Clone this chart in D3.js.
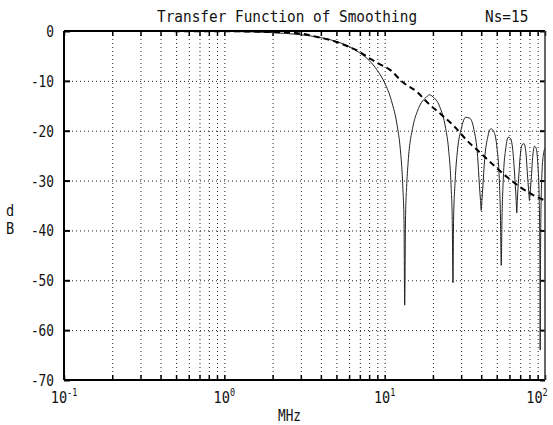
<!DOCTYPE html>
<html lang="en">
<head>
<meta charset="utf-8">
<title>Transfer Function of Smoothing</title>
<script src="https://cdn.jsdelivr.net/npm/d3@7"></script>
<style>
  body { margin: 0; background: #fff; }
  text { font-family: "DejaVu Sans Mono", monospace; fill: #111; }
</style>
</head>
<body>
<script>

// data
var decades = [0.1, 1, 10, 100];
var decadeExp = ["-1", "0", "1", "2"];
var dbTicks = [0, -10, -20, -30, -40, -50, -60, -70];

// solid curve (smoothing filter), MHz / dB
var freqSolid = [0.1, 0.2, 0.5, 1, 1.5, 2, 3, 4, 5, 6, 7, 8, 9, 10, 11, 12, 12.5, 13, 13.2, 13.33, 13.5, 13.7, 14, 15, 16, 17, 18, 19, 20, 22, 24, 25, 26, 26.4, 26.67, 26.9, 27.5, 28.5, 30, 32, 34, 36, 38, 39, 39.6, 40, 40.4, 41, 42, 44, 46, 48, 50, 52, 52.8, 53.33, 53.9, 55, 57, 59, 61, 63, 65, 66.1, 66.67, 67.2, 68.5, 70, 72, 74, 76, 78, 79.5, 80, 80.5, 82, 84, 86, 88, 90, 92, 92.9, 93.33, 93.8, 95, 97.5, 100];
var dbSolid = [0, 0, -0.02, -0.08, -0.18, -0.33, -0.75, -1.33, -2.1, -3.1, -4.4, -5.9, -7.9, -10.4, -13.9, -19.2, -23.5, -31.8, -38, -55, -37, -31.4, -26.4, -19.2, -16.1, -14.3, -13.4, -12.8, -13.2, -15.1, -19.5, -23.5, -31.6, -38, -50.5, -38, -30.2, -23.7, -19.7, -17.3, -17.5, -19.7, -25.2, -31, -34, -36, -34, -31, -25.8, -21.2, -19.6, -20.2, -23, -30.5, -38, -47, -38, -29.3, -23.4, -21.3, -21.6, -24, -30, -34, -36.5, -34, -29.5, -25.2, -22.8, -22.6, -24.4, -29.5, -33, -34, -33, -29.8, -24.9, -23.1, -23.5, -26.2, -33.4, -45, -64, -45, -31.6, -25, -23.5];

// dashed curve
var freqDash = [0.1, 1, 2, 2.8, 3.8, 5, 6, 7, 7.8, 9, 10.8, 13, 15.9, 18.4, 23, 27.5, 32.7, 39.4, 47.4, 58, 70, 84.4, 100];
var dbDash = [0, -0.05, -0.2, -0.4, -1.2, -2.2, -3.2, -4.2, -5.2, -6.4, -7.8, -10.3, -12.2, -14.3, -17.0, -19.3, -22.0, -24.4, -26.8, -29.3, -31.3, -32.9, -34];

var w = 553, h = 425;
var padL = 64, padR = 545, padT = 31, padB = 380;

var xScale = d3.scaleLog().domain([0.1, 100]).range([padL, padR]);
var yScale = d3.scaleLinear().domain([-70, 0]).range([padB, padT]);

var svg = d3.select("body").append("svg")
  .attr("width", w).attr("height", h);

svg.append("rect").attr("width", w).attr("height", h).attr("fill", "#fff");

// grid
var minor = xScale.ticks().filter(function(d) { return d > 0.1 && d < 100; });

svg.append("g")
  .attr("class", "grid")
  .attr("transform", "translate(0," + padB + ")")
  .call(d3.axisBottom(xScale).tickValues(minor).tickSize(-(padB - padT)).tickFormat(""))
  .call(function(g) { g.select(".domain").remove(); })
  .selectAll("line")
  .attr("stroke", "#222").attr("stroke-width", 1).attr("stroke-dasharray", "1,3");

svg.append("g")
  .attr("class", "grid")
  .attr("transform", "translate(" + padL + ",0)")
  .call(d3.axisLeft(yScale).tickValues(dbTicks.slice(1, -1)).tickSize(-(padR - padL)).tickFormat(""))
  .call(function(g) { g.select(".domain").remove(); })
  .selectAll("line")
  .attr("stroke", "#222").attr("stroke-width", 1).attr("stroke-dasharray", "1,3");

// inward ticks
var allX = xScale.ticks();
function ticks(axis, tx, ty, sw) {
  svg.append("g")
    .attr("transform", "translate(" + tx + "," + ty + ")")
    .call(axis)
    .call(function(g) { g.select(".domain").remove(); })
    .selectAll("line").attr("stroke", "#000").attr("stroke-width", sw);
}
ticks(d3.axisBottom(xScale).tickValues(allX).tickSize(-5).tickFormat(""), 0, padB, 1.5);
ticks(d3.axisTop(xScale).tickValues(allX).tickSize(-5).tickFormat(""), 0, padT, 1.5);
ticks(d3.axisLeft(yScale).tickValues(dbTicks).tickSize(-6).tickFormat(""), padL, 0, 2);
ticks(d3.axisRight(yScale).tickValues(dbTicks).tickSize(-5).tickFormat(""), padR, 0, 2);

// curves
var lineSolid = d3.line()
  .x(function(d, i) { return xScale(freqSolid[i]); })
  .y(function(d) { return yScale(d); })
  .curve(d3.curveMonotoneX);

svg.append("path")
  .attr("d", lineSolid(dbSolid))
  .attr("fill", "none").attr("stroke", "#222").attr("stroke-width", 1);

var lineDash = d3.line()
  .x(function(d, i) { return xScale(freqDash[i]); })
  .y(function(d) { return yScale(d); })
  .curve(d3.curveMonotoneX);

svg.append("path")
  .attr("d", lineDash(dbDash))
  .attr("fill", "none").attr("stroke", "#000").attr("stroke-width", 2)
  .attr("stroke-dasharray", "6,4");

// frame
svg.append("line").attr("x1", padL).attr("x2", padL).attr("y1", padT).attr("y2", padB)
  .attr("stroke", "#000").attr("stroke-width", 2);
svg.append("line").attr("x1", padL).attr("x2", padR).attr("y1", padB).attr("y2", padB)
  .attr("stroke", "#000").attr("stroke-width", 2);
svg.append("line").attr("x1", padL).attr("x2", padR).attr("y1", padT).attr("y2", padT)
  .attr("stroke", "#000").attr("stroke-width", 2);
svg.append("line").attr("x1", padR).attr("x2", padR).attr("y1", padT).attr("y2", padB)
  .attr("stroke", "#333").attr("stroke-width", 1.5);

// y labels
svg.selectAll(".ylab")
  .data(dbTicks)
  .enter()
  .append("text")
  .attr("class", "ylab")
  .attr("transform", function(d) { return "translate(54," + (yScale(d) + 6) + ") scale(0.8,1)"; })
  .attr("text-anchor", "end")
  .attr("font-size", "16px")
  .attr("font-family", "DejaVu Sans")
  .text(function(d) { return d === 0 ? "0" : "-" + Math.abs(d); });

// x labels
var xl = svg.selectAll(".xlab")
  .data(decades)
  .enter()
  .append("text")
  .attr("class", "xlab")
  .attr("transform", function(d, i) {
    var px = xScale(d);
    if (i === decades.length - 1) px = px - 8;
    return "translate(" + px + ",403) scale(0.85,1)";
  })
  .attr("text-anchor", "middle")
  .attr("font-size", "16px")
  .attr("font-family", "DejaVu Sans");
xl.append("tspan").text("10");
xl.append("tspan").attr("dy", -7).attr("font-size", "10px")
  .text(function(d, i) { return decadeExp[i]; });

// titles
svg.append("text")
  .attr("transform", "translate(157,22) scale(0.9,1)")
  .attr("font-size", "16px")
  .text("Transfer Function of Smoothing");

svg.append("text")
  .attr("transform", "translate(485,22) scale(0.9,1)")
  .attr("font-size", "16px")
  .text("Ns=15");

svg.append("text")
  .attr("transform", "translate(278,421) scale(0.85,1)")
  .attr("font-size", "15px")
  .text("MHz");

svg.append("text")
  .attr("transform", "translate(10,216) scale(0.85,1)")
  .attr("text-anchor", "middle")
  .attr("font-size", "16px")
  .text("d");
svg.append("text")
  .attr("transform", "translate(10,234) scale(0.85,1)")
  .attr("text-anchor", "middle")
  .attr("font-size", "16px")
  .text("B");

</script>
</body>
</html>
